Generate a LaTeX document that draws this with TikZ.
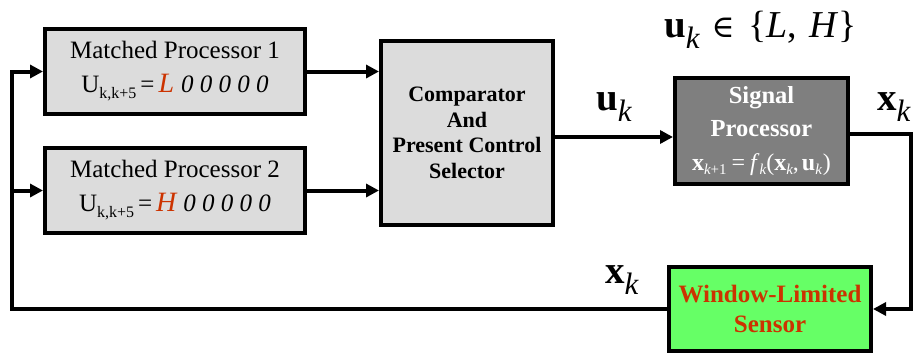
\documentclass[tikz,border=0pt]{standalone}
\usepackage{fontspec}
\setmainfont{Liberation Serif}
\newfontfamily\symfont{DejaVu Serif}
\usetikzlibrary{arrows.meta}

\definecolor{boxgray}{HTML}{DCDCDC}
\definecolor{procgray}{HTML}{7F7F7F}
\definecolor{sensorgreen}{HTML}{66FF66}
\definecolor{labelred}{HTML}{CC3300}

% control word subscript U_{k,k+5}
\newcommand{\Usub}{U\raisebox{-6pt}{\fontsize{16}{16}\selectfont k,k+5}}
% a control word: first symbol in red, then five zeros
\newcommand{\ctrlword}[1]{\Usub\hspace{4pt}=\hspace{4pt}{\fontsize{28}{30}\selectfont\color{labelred}\itshape #1}\hspace{7pt}\textit{0 0 0 0 0}}
% large bold vector with italic k subscript
\newcommand{\bigvec}[1]{{\fontsize{39}{40}\selectfont\bfseries #1}\raisebox{-11pt}{\fontsize{31}{31}\selectfont\itshape k}}
% small bold vector with subscript, for the state equation
\newcommand{\smvec}[2]{{\bfseries #1}\raisebox{-4pt}{\fontsize{15}{15}\selectfont\mdseries #2}}

\begin{document}
\begin{tikzpicture}[x=1pt,y=-1pt,
  blk/.style={draw=black, line width=4pt, fill=boxgray, inner sep=0pt, align=center},
  arr/.style={-{Triangle[length=13pt,width=13pt]}, line width=4pt},
  lbl/.style={anchor=base west, inner sep=0pt}
]
\useasboundingbox (0,0) rectangle (914,356);

% blocks
\node[blk, minimum width=260pt, minimum height=85pt,
      font=\fontsize{25}{34}\selectfont] (mp1) at (175,71.5)
  {Matched Processor 1\\ \ctrlword{L}};
\node[blk, minimum width=260pt, minimum height=85pt,
      font=\fontsize{25}{34}\selectfont] (mp2) at (175,190.5)
  {Matched Processor 2\\ \ctrlword{H}};
\node[blk, minimum width=172pt, minimum height=184pt,
      font=\fontsize{22}{25.5}\selectfont\bfseries] (comp) at (467,133)
  {Comparator\\And\\Present Control\\Selector};
\node[blk, fill=procgray, text=white, minimum width=173pt, minimum height=106pt,
      font=\fontsize{24.5}{33.5}\selectfont\bfseries] (sp) at (761.5,131)
  {Signal\\Processor\\{\fontsize{24}{33.5}\selectfont\mdseries
   \smvec{x}{\itshape k\upshape+1}\hspace{5pt}=\hspace{5pt}\textit{f}\raisebox{-4pt}{\fontsize{15}{15}\selectfont\itshape k}(\smvec{x}{\itshape k},\hspace{3pt}\smvec{u}{\itshape k}\hspace{1pt})}};
\node[blk, fill=sensorgreen, text=labelred, minimum width=202pt, minimum height=84pt,
      font=\fontsize{25}{30}\selectfont\bfseries] (sensor) at (770,309)
  {Window-Limited\\Sensor};

% labels
\node[lbl] (uk) at (596,110) {\bigvec{u}};
\node[lbl] (xkout) at (877,110) {\bigvec{x}};
\node[lbl] (xkfb) at (605,283) {\bigvec{x}};
\node[lbl] (uset) at (664,37)
  {\bigvec{u}\hspace{12pt}{\fontsize{38}{40}\selectfont{\symfont\fontsize{31}{31}\selectfont ∈}\hspace{14pt}\{\textit{L},\hspace{12pt}\textit{H}\}}};

% connectors
\coordinate (c2s) at ([yshift=-4pt]comp.east);
\coordinate (rt) at (911,134);
\coordinate (lb) at (12,309);
\coordinate (lt) at (12,71.5);

\draw[arr] (mp1.east) -- (mp1.east -| comp.west);
\draw[arr] (mp2.east) -- (mp2.east -| comp.west);
\draw[arr] (c2s) -- (c2s -| sp.west);
\draw[arr] ([yshift=-3pt]sp.east) -- (rt) -- (rt |- sensor.east) -- (sensor.east);
\draw[arr] (sensor.west) -- (lb) -- (lt) -- (mp1.west);
\draw[arr] (lb |- mp2.west) -- (mp2.west);
\end{tikzpicture}
\end{document}
